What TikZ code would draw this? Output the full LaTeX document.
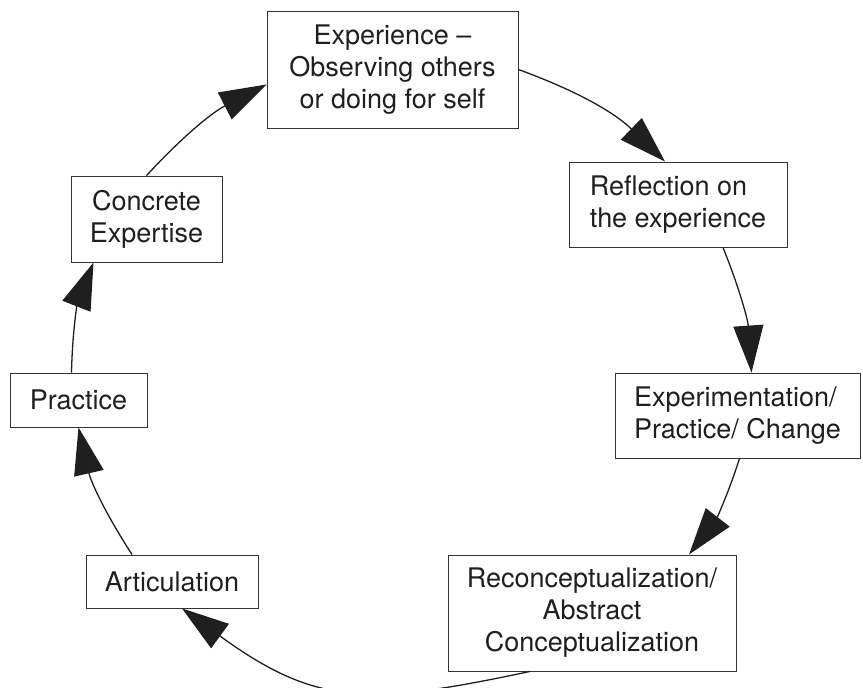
\documentclass[tikz,border=0pt]{standalone}
\usepackage{fontspec}
\setmainfont{TeX Gyre Heros}
\usetikzlibrary{arrows.meta}

\begin{document}
\begin{tikzpicture}[>={Triangle[length=47pt,width=30pt]}, x=1pt, y=1pt]
			\tikzstyle{every node} = [rectangle,draw=black!80,line width=0.9pt,fill=white,text=black!88,inner sep=0pt,font=\fontsize{27}{32}\selectfont];
			\useasboundingbox (0,0) rectangle (863,688);
			\node[minimum width=251,minimum height=117,align=center] (1) at (392.50, 618.50) {Experience --\\Observing others\\or doing for self};
			\node[minimum width=218,minimum height=85,align=left] (2) at (678.00, 483.50) {Reflection on\\the experience};
			\node[minimum width=245,minimum height=85,align=left] (3) at (737.50, 272.50) {Experimentation/\\Practice/ Change};
			\node[minimum width=288,minimum height=116,align=center] (4) at (592.00, 75.00) {Reconceptualization/\\Abstract\\Conceptualization};
			\node[minimum width=172,minimum height=53] (5) at (172.00, 106.50) {Articulation};
			\node[minimum width=137,minimum height=54] (6) at (78.50, 288.00) {Practice};
			\node[minimum width=151,minimum height=86,align=center] (7) at (146.50, 469.00) {Concrete\\Expertise};
			\draw[->,line width=1.3pt,black!88] (1.east) to[bend left=12] ([xshift=-13]2.north);
			\draw[->,line width=1.3pt,black!88] ([xshift=45]2.south) to[bend left=9] ([xshift=14]3.north);
			\draw[->,line width=1.3pt,black!88] ([xshift=2]3.south) to[bend left=10] ([xshift=97]4.north);
			\draw[->,line width=1.3pt,black!88] ([xshift=-62]4.south) to[out=192,in=-36,looseness=1.2] ([xshift=10]5.south);
			\draw[->,line width=1.3pt,black!88] ([xshift=-40]5.north) to[bend left=10] (6.south);
			\draw[->,line width=1.3pt,black!88] ([xshift=-7]6.north) to[bend left=10] ([xshift=-53]7.south);
			\draw[->,line width=1.3pt,black!88] (7.north) to[bend left=10] ([yshift=-15]1.west);
		\end{tikzpicture}
\end{document}
